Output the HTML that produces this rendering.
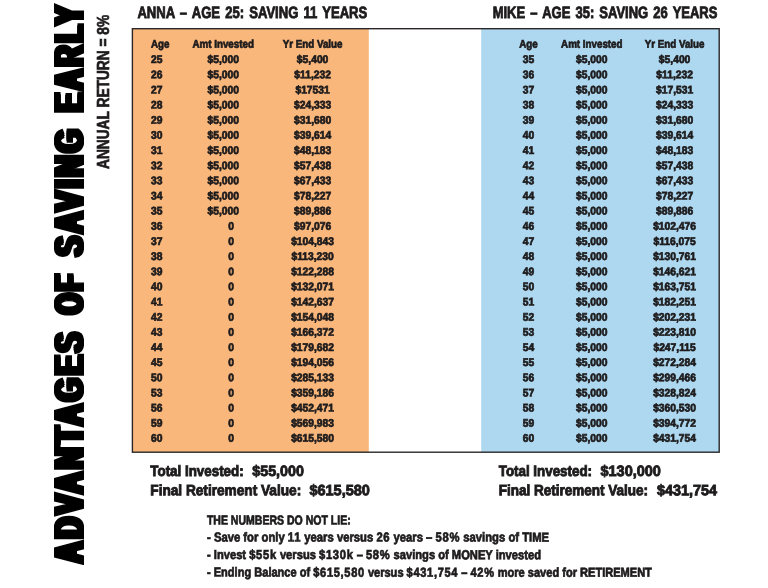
<!DOCTYPE html>
<html lang="en"><head><meta charset="utf-8"><title>Advantages of Saving Early</title>
<style>
html,body{margin:0;padding:0;background:#fff}
body{width:768px;height:588px;position:relative;overflow:hidden;font-family:"Liberation Sans",sans-serif;font-weight:bold;color:#1d1b1c}
.t{position:absolute;left:0;top:0;white-space:pre;line-height:1;transform-origin:0 0;margin:0}
.frame{position:absolute;left:0;top:0;width:768px;height:588px}
.c{position:absolute;left:0;top:0;white-space:pre;line-height:1;font-size:11.0px;width:100px;text-align:center;transform-origin:50% 0}
.l{position:absolute;left:0;top:0;white-space:pre;line-height:1;font-size:11.0px;transform-origin:0 0}
.h{-webkit-text-stroke:0.85px #1d1b1c}.tot{-webkit-text-stroke:0.9px #1d1b1c}.ft{-webkit-text-stroke:0.7px #1d1b1c}
.h{word-spacing:1.9px}.ft{word-spacing:0px}
.n{letter-spacing:0.8px}
.c,.l{-webkit-text-stroke:0.7px #1d1b1c}
.hd{font-size:11.3px}
.vt{position:absolute;white-space:pre;line-height:1;transform-origin:0 0;color:#000}
</style></head><body>
<div id="vwrap" style="position:absolute;left:0;top:0;width:128px;height:588px;filter:drop-shadow(0 2px 0 #000) drop-shadow(0 -2px 0 #000)">
<h1 class="vt" id="vtitle" style="margin:0;left:49.2px;top:565px;width:570px;height:40.7px;font-size:40.7px;letter-spacing:4.5px;-webkit-text-stroke:2.0px #000;transform:rotate(-90deg)">
<span style="position:absolute;left:2.4px;top:0;transform-origin:0 0;transform:scaleX(0.7215)">ADVANTAGES</span>
<span style="position:absolute;left:250.9px;top:0;transform-origin:0 0;transform:scaleX(0.6456)">OF</span>
<span style="position:absolute;left:308.8px;top:0;transform-origin:0 0;transform:scaleX(0.7216)">SAVING</span>
<span style="position:absolute;left:452.8px;top:0;transform-origin:0 0;transform:scaleX(0.6982)">EARLY</span>
</h1>
</div>
<div class="vt" id="vsub" style="left:96.2px;top:169.3px;font-size:16.7px;color:#1d1b1c;-webkit-text-stroke:0.7px #1d1b1c;transform:rotate(-90deg) scaleX(0.822)">ANNUAL RETURN = 8%</div>
<svg class="frame" width="768" height="588" viewBox="0 0 768 588">
<rect x="132.4" y="28.7" width="236.4" height="423.5" fill="#fab77c"/>
<rect x="481.2" y="28.7" width="238" height="423.5" fill="#aed8f0"/>
<rect x="132.4" y="28.7" width="586.8" height="423.5" fill="none" stroke="#2b2728" stroke-width="1.4"/>
</svg>
<section class="anna">
<div class="l hd" style="transform:translate(151px,38.83px) rotate(0.04deg) scaleX(0.865)">Age</div>
<div class="c hd" style="transform:translate(173.2px,38.83px) rotate(0.04deg) scaleX(0.865)">Amt Invested</div>
<div class="c hd" style="transform:translate(262.6px,38.83px) rotate(0.04deg) scaleX(0.865)">Yr End Value</div>
<div class="l" style="transform:translate(151px,54.09px) rotate(0.04deg) scaleX(0.935)">25</div>
<div class="c" style="transform:translate(173.2px,54.09px) rotate(0.04deg) scaleX(0.935)">$5,000</div>
<div class="c" style="transform:translate(262.6px,54.09px) rotate(0.04deg) scaleX(0.935)">$5,400</div>
<div class="l" style="transform:translate(151px,69.24px) rotate(0.04deg) scaleX(0.935)">26</div>
<div class="c" style="transform:translate(173.2px,69.24px) rotate(0.04deg) scaleX(0.935)">$5,000</div>
<div class="c" style="transform:translate(262.6px,69.24px) rotate(0.04deg) scaleX(0.935)">$11,232</div>
<div class="l" style="transform:translate(151px,84.39px) rotate(0.04deg) scaleX(0.935)">27</div>
<div class="c" style="transform:translate(173.2px,84.39px) rotate(0.04deg) scaleX(0.935)">$5,000</div>
<div class="c" style="transform:translate(262.6px,84.39px) rotate(0.04deg) scaleX(0.935)">$17531</div>
<div class="l" style="transform:translate(151px,99.54px) rotate(0.04deg) scaleX(0.935)">28</div>
<div class="c" style="transform:translate(173.2px,99.54px) rotate(0.04deg) scaleX(0.935)">$5,000</div>
<div class="c" style="transform:translate(262.6px,99.54px) rotate(0.04deg) scaleX(0.935)">$24,333</div>
<div class="l" style="transform:translate(151px,114.69px) rotate(0.04deg) scaleX(0.935)">29</div>
<div class="c" style="transform:translate(173.2px,114.69px) rotate(0.04deg) scaleX(0.935)">$5,000</div>
<div class="c" style="transform:translate(262.6px,114.69px) rotate(0.04deg) scaleX(0.935)">$31,680</div>
<div class="l" style="transform:translate(151px,129.84px) rotate(0.04deg) scaleX(0.935)">30</div>
<div class="c" style="transform:translate(173.2px,129.84px) rotate(0.04deg) scaleX(0.935)">$5,000</div>
<div class="c" style="transform:translate(262.6px,129.84px) rotate(0.04deg) scaleX(0.935)">$39,614</div>
<div class="l" style="transform:translate(151px,144.99px) rotate(0.04deg) scaleX(0.935)">31</div>
<div class="c" style="transform:translate(173.2px,144.99px) rotate(0.04deg) scaleX(0.935)">$5,000</div>
<div class="c" style="transform:translate(262.6px,144.99px) rotate(0.04deg) scaleX(0.935)">$48,183</div>
<div class="l" style="transform:translate(151px,160.14px) rotate(0.04deg) scaleX(0.935)">32</div>
<div class="c" style="transform:translate(173.2px,160.14px) rotate(0.04deg) scaleX(0.935)">$5,000</div>
<div class="c" style="transform:translate(262.6px,160.14px) rotate(0.04deg) scaleX(0.935)">$57,438</div>
<div class="l" style="transform:translate(151px,175.29px) rotate(0.04deg) scaleX(0.935)">33</div>
<div class="c" style="transform:translate(173.2px,175.29px) rotate(0.04deg) scaleX(0.935)">$5,000</div>
<div class="c" style="transform:translate(262.6px,175.29px) rotate(0.04deg) scaleX(0.935)">$67,433</div>
<div class="l" style="transform:translate(151px,190.44px) rotate(0.04deg) scaleX(0.935)">34</div>
<div class="c" style="transform:translate(173.2px,190.44px) rotate(0.04deg) scaleX(0.935)">$5,000</div>
<div class="c" style="transform:translate(262.6px,190.44px) rotate(0.04deg) scaleX(0.935)">$78,227</div>
<div class="l" style="transform:translate(151px,205.59px) rotate(0.04deg) scaleX(0.935)">35</div>
<div class="c" style="transform:translate(173.2px,205.59px) rotate(0.04deg) scaleX(0.935)">$5,000</div>
<div class="c" style="transform:translate(262.6px,205.59px) rotate(0.04deg) scaleX(0.935)">$89,886</div>
<div class="l" style="transform:translate(151px,220.74px) rotate(0.04deg) scaleX(0.935)">36</div>
<div class="c" style="transform:translate(181px,220.74px) rotate(0.04deg) scaleX(0.935)">0</div>
<div class="c" style="transform:translate(262.6px,220.74px) rotate(0.04deg) scaleX(0.935)">$97,076</div>
<div class="l" style="transform:translate(151px,235.89px) rotate(0.04deg) scaleX(0.935)">37</div>
<div class="c" style="transform:translate(181px,235.89px) rotate(0.04deg) scaleX(0.935)">0</div>
<div class="c" style="transform:translate(262.6px,235.89px) rotate(0.04deg) scaleX(0.935)">$104,843</div>
<div class="l" style="transform:translate(151px,251.04px) rotate(0.04deg) scaleX(0.935)">38</div>
<div class="c" style="transform:translate(181px,251.04px) rotate(0.04deg) scaleX(0.935)">0</div>
<div class="c" style="transform:translate(262.6px,251.04px) rotate(0.04deg) scaleX(0.935)">$113,230</div>
<div class="l" style="transform:translate(151px,266.19px) rotate(0.04deg) scaleX(0.935)">39</div>
<div class="c" style="transform:translate(181px,266.19px) rotate(0.04deg) scaleX(0.935)">0</div>
<div class="c" style="transform:translate(262.6px,266.19px) rotate(0.04deg) scaleX(0.935)">$122,288</div>
<div class="l" style="transform:translate(151px,281.34px) rotate(0.04deg) scaleX(0.935)">40</div>
<div class="c" style="transform:translate(181px,281.34px) rotate(0.04deg) scaleX(0.935)">0</div>
<div class="c" style="transform:translate(262.6px,281.34px) rotate(0.04deg) scaleX(0.935)">$132,071</div>
<div class="l" style="transform:translate(151px,296.49px) rotate(0.04deg) scaleX(0.935)">41</div>
<div class="c" style="transform:translate(181px,296.49px) rotate(0.04deg) scaleX(0.935)">0</div>
<div class="c" style="transform:translate(262.6px,296.49px) rotate(0.04deg) scaleX(0.935)">$142,637</div>
<div class="l" style="transform:translate(151px,311.64px) rotate(0.04deg) scaleX(0.935)">42</div>
<div class="c" style="transform:translate(181px,311.64px) rotate(0.04deg) scaleX(0.935)">0</div>
<div class="c" style="transform:translate(262.6px,311.64px) rotate(0.04deg) scaleX(0.935)">$154,048</div>
<div class="l" style="transform:translate(151px,326.79px) rotate(0.04deg) scaleX(0.935)">43</div>
<div class="c" style="transform:translate(181px,326.79px) rotate(0.04deg) scaleX(0.935)">0</div>
<div class="c" style="transform:translate(262.6px,326.79px) rotate(0.04deg) scaleX(0.935)">$166,372</div>
<div class="l" style="transform:translate(151px,341.94px) rotate(0.04deg) scaleX(0.935)">44</div>
<div class="c" style="transform:translate(181px,341.94px) rotate(0.04deg) scaleX(0.935)">0</div>
<div class="c" style="transform:translate(262.6px,341.94px) rotate(0.04deg) scaleX(0.935)">$179,682</div>
<div class="l" style="transform:translate(151px,357.09px) rotate(0.04deg) scaleX(0.935)">45</div>
<div class="c" style="transform:translate(181px,357.09px) rotate(0.04deg) scaleX(0.935)">0</div>
<div class="c" style="transform:translate(262.6px,357.09px) rotate(0.04deg) scaleX(0.935)">$194,056</div>
<div class="l" style="transform:translate(151px,372.24px) rotate(0.04deg) scaleX(0.935)">50</div>
<div class="c" style="transform:translate(181px,372.24px) rotate(0.04deg) scaleX(0.935)">0</div>
<div class="c" style="transform:translate(262.6px,372.24px) rotate(0.04deg) scaleX(0.935)">$285,133</div>
<div class="l" style="transform:translate(151px,387.39px) rotate(0.04deg) scaleX(0.935)">53</div>
<div class="c" style="transform:translate(181px,387.39px) rotate(0.04deg) scaleX(0.935)">0</div>
<div class="c" style="transform:translate(262.6px,387.39px) rotate(0.04deg) scaleX(0.935)">$359,186</div>
<div class="l" style="transform:translate(151px,402.54px) rotate(0.04deg) scaleX(0.935)">56</div>
<div class="c" style="transform:translate(181px,402.54px) rotate(0.04deg) scaleX(0.935)">0</div>
<div class="c" style="transform:translate(262.6px,402.54px) rotate(0.04deg) scaleX(0.935)">$452,471</div>
<div class="l" style="transform:translate(151px,417.69px) rotate(0.04deg) scaleX(0.935)">59</div>
<div class="c" style="transform:translate(181px,417.69px) rotate(0.04deg) scaleX(0.935)">0</div>
<div class="c" style="transform:translate(262.6px,417.69px) rotate(0.04deg) scaleX(0.935)">$569,983</div>
<div class="l" style="transform:translate(151px,432.84px) rotate(0.04deg) scaleX(0.935)">60</div>
<div class="c" style="transform:translate(181px,432.84px) rotate(0.04deg) scaleX(0.935)">0</div>
<div class="c" style="transform:translate(262.6px,432.84px) rotate(0.04deg) scaleX(0.935)">$615,580</div>
</section>
<section class="mike">
<div class="c hd" style="transform:translate(478.5px,38.83px) rotate(0.04deg) scaleX(0.865)">Age</div>
<div class="c hd" style="transform:translate(541.8px,38.83px) rotate(0.04deg) scaleX(0.865)">Amt Invested</div>
<div class="c hd" style="transform:translate(624.6px,38.83px) rotate(0.04deg) scaleX(0.865)">Yr End Value</div>
<div class="c" style="transform:translate(478.5px,54.09px) rotate(0.04deg) scaleX(0.935)">35</div>
<div class="c" style="transform:translate(541.8px,54.09px) rotate(0.04deg) scaleX(0.935)">$5,000</div>
<div class="c" style="transform:translate(624.6px,54.09px) rotate(0.04deg) scaleX(0.935)">$5,400</div>
<div class="c" style="transform:translate(478.5px,69.24px) rotate(0.04deg) scaleX(0.935)">36</div>
<div class="c" style="transform:translate(541.8px,69.24px) rotate(0.04deg) scaleX(0.935)">$5,000</div>
<div class="c" style="transform:translate(624.6px,69.24px) rotate(0.04deg) scaleX(0.935)">$11,232</div>
<div class="c" style="transform:translate(478.5px,84.39px) rotate(0.04deg) scaleX(0.935)">37</div>
<div class="c" style="transform:translate(541.8px,84.39px) rotate(0.04deg) scaleX(0.935)">$5,000</div>
<div class="c" style="transform:translate(624.6px,84.39px) rotate(0.04deg) scaleX(0.935)">$17,531</div>
<div class="c" style="transform:translate(478.5px,99.54px) rotate(0.04deg) scaleX(0.935)">38</div>
<div class="c" style="transform:translate(541.8px,99.54px) rotate(0.04deg) scaleX(0.935)">$5,000</div>
<div class="c" style="transform:translate(624.6px,99.54px) rotate(0.04deg) scaleX(0.935)">$24,333</div>
<div class="c" style="transform:translate(478.5px,114.69px) rotate(0.04deg) scaleX(0.935)">39</div>
<div class="c" style="transform:translate(541.8px,114.69px) rotate(0.04deg) scaleX(0.935)">$5,000</div>
<div class="c" style="transform:translate(624.6px,114.69px) rotate(0.04deg) scaleX(0.935)">$31,680</div>
<div class="c" style="transform:translate(478.5px,129.84px) rotate(0.04deg) scaleX(0.935)">40</div>
<div class="c" style="transform:translate(541.8px,129.84px) rotate(0.04deg) scaleX(0.935)">$5,000</div>
<div class="c" style="transform:translate(624.6px,129.84px) rotate(0.04deg) scaleX(0.935)">$39,614</div>
<div class="c" style="transform:translate(478.5px,144.99px) rotate(0.04deg) scaleX(0.935)">41</div>
<div class="c" style="transform:translate(541.8px,144.99px) rotate(0.04deg) scaleX(0.935)">$5,000</div>
<div class="c" style="transform:translate(624.6px,144.99px) rotate(0.04deg) scaleX(0.935)">$48,183</div>
<div class="c" style="transform:translate(478.5px,160.14px) rotate(0.04deg) scaleX(0.935)">42</div>
<div class="c" style="transform:translate(541.8px,160.14px) rotate(0.04deg) scaleX(0.935)">$5,000</div>
<div class="c" style="transform:translate(624.6px,160.14px) rotate(0.04deg) scaleX(0.935)">$57,438</div>
<div class="c" style="transform:translate(478.5px,175.29px) rotate(0.04deg) scaleX(0.935)">43</div>
<div class="c" style="transform:translate(541.8px,175.29px) rotate(0.04deg) scaleX(0.935)">$5,000</div>
<div class="c" style="transform:translate(624.6px,175.29px) rotate(0.04deg) scaleX(0.935)">$67,433</div>
<div class="c" style="transform:translate(478.5px,190.44px) rotate(0.04deg) scaleX(0.935)">44</div>
<div class="c" style="transform:translate(541.8px,190.44px) rotate(0.04deg) scaleX(0.935)">$5,000</div>
<div class="c" style="transform:translate(624.6px,190.44px) rotate(0.04deg) scaleX(0.935)">$78,227</div>
<div class="c" style="transform:translate(478.5px,205.59px) rotate(0.04deg) scaleX(0.935)">45</div>
<div class="c" style="transform:translate(541.8px,205.59px) rotate(0.04deg) scaleX(0.935)">$5,000</div>
<div class="c" style="transform:translate(624.6px,205.59px) rotate(0.04deg) scaleX(0.935)">$89,886</div>
<div class="c" style="transform:translate(478.5px,220.74px) rotate(0.04deg) scaleX(0.935)">46</div>
<div class="c" style="transform:translate(541.8px,220.74px) rotate(0.04deg) scaleX(0.935)">$5,000</div>
<div class="c" style="transform:translate(624.6px,220.74px) rotate(0.04deg) scaleX(0.935)">$102,476</div>
<div class="c" style="transform:translate(478.5px,235.89px) rotate(0.04deg) scaleX(0.935)">47</div>
<div class="c" style="transform:translate(541.8px,235.89px) rotate(0.04deg) scaleX(0.935)">$5,000</div>
<div class="c" style="transform:translate(624.6px,235.89px) rotate(0.04deg) scaleX(0.935)">$116,075</div>
<div class="c" style="transform:translate(478.5px,251.04px) rotate(0.04deg) scaleX(0.935)">48</div>
<div class="c" style="transform:translate(541.8px,251.04px) rotate(0.04deg) scaleX(0.935)">$5,000</div>
<div class="c" style="transform:translate(624.6px,251.04px) rotate(0.04deg) scaleX(0.935)">$130,761</div>
<div class="c" style="transform:translate(478.5px,266.19px) rotate(0.04deg) scaleX(0.935)">49</div>
<div class="c" style="transform:translate(541.8px,266.19px) rotate(0.04deg) scaleX(0.935)">$5,000</div>
<div class="c" style="transform:translate(624.6px,266.19px) rotate(0.04deg) scaleX(0.935)">$146,621</div>
<div class="c" style="transform:translate(478.5px,281.34px) rotate(0.04deg) scaleX(0.935)">50</div>
<div class="c" style="transform:translate(541.8px,281.34px) rotate(0.04deg) scaleX(0.935)">$5,000</div>
<div class="c" style="transform:translate(624.6px,281.34px) rotate(0.04deg) scaleX(0.935)">$163,751</div>
<div class="c" style="transform:translate(478.5px,296.49px) rotate(0.04deg) scaleX(0.935)">51</div>
<div class="c" style="transform:translate(541.8px,296.49px) rotate(0.04deg) scaleX(0.935)">$5,000</div>
<div class="c" style="transform:translate(624.6px,296.49px) rotate(0.04deg) scaleX(0.935)">$182,251</div>
<div class="c" style="transform:translate(478.5px,311.64px) rotate(0.04deg) scaleX(0.935)">52</div>
<div class="c" style="transform:translate(541.8px,311.64px) rotate(0.04deg) scaleX(0.935)">$5,000</div>
<div class="c" style="transform:translate(624.6px,311.64px) rotate(0.04deg) scaleX(0.935)">$202,231</div>
<div class="c" style="transform:translate(478.5px,326.79px) rotate(0.04deg) scaleX(0.935)">53</div>
<div class="c" style="transform:translate(541.8px,326.79px) rotate(0.04deg) scaleX(0.935)">$5,000</div>
<div class="c" style="transform:translate(624.6px,326.79px) rotate(0.04deg) scaleX(0.935)">$223,810</div>
<div class="c" style="transform:translate(478.5px,341.94px) rotate(0.04deg) scaleX(0.935)">54</div>
<div class="c" style="transform:translate(541.8px,341.94px) rotate(0.04deg) scaleX(0.935)">$5,000</div>
<div class="c" style="transform:translate(624.6px,341.94px) rotate(0.04deg) scaleX(0.935)">$247,115</div>
<div class="c" style="transform:translate(478.5px,357.09px) rotate(0.04deg) scaleX(0.935)">55</div>
<div class="c" style="transform:translate(541.8px,357.09px) rotate(0.04deg) scaleX(0.935)">$5,000</div>
<div class="c" style="transform:translate(624.6px,357.09px) rotate(0.04deg) scaleX(0.935)">$272,284</div>
<div class="c" style="transform:translate(478.5px,372.24px) rotate(0.04deg) scaleX(0.935)">56</div>
<div class="c" style="transform:translate(541.8px,372.24px) rotate(0.04deg) scaleX(0.935)">$5,000</div>
<div class="c" style="transform:translate(624.6px,372.24px) rotate(0.04deg) scaleX(0.935)">$299,466</div>
<div class="c" style="transform:translate(478.5px,387.39px) rotate(0.04deg) scaleX(0.935)">57</div>
<div class="c" style="transform:translate(541.8px,387.39px) rotate(0.04deg) scaleX(0.935)">$5,000</div>
<div class="c" style="transform:translate(624.6px,387.39px) rotate(0.04deg) scaleX(0.935)">$328,824</div>
<div class="c" style="transform:translate(478.5px,402.54px) rotate(0.04deg) scaleX(0.935)">58</div>
<div class="c" style="transform:translate(541.8px,402.54px) rotate(0.04deg) scaleX(0.935)">$5,000</div>
<div class="c" style="transform:translate(624.6px,402.54px) rotate(0.04deg) scaleX(0.935)">$360,530</div>
<div class="c" style="transform:translate(478.5px,417.69px) rotate(0.04deg) scaleX(0.935)">59</div>
<div class="c" style="transform:translate(541.8px,417.69px) rotate(0.04deg) scaleX(0.935)">$5,000</div>
<div class="c" style="transform:translate(624.6px,417.69px) rotate(0.04deg) scaleX(0.935)">$394,772</div>
<div class="c" style="transform:translate(478.5px,432.84px) rotate(0.04deg) scaleX(0.935)">60</div>
<div class="c" style="transform:translate(541.8px,432.84px) rotate(0.04deg) scaleX(0.935)">$5,000</div>
<div class="c" style="transform:translate(624.6px,432.84px) rotate(0.04deg) scaleX(0.935)">$431,754</div>
</section>
<div class="t h" id="L0" style="font-size:16.35px;transform:translate(137.4px,3.96px) rotate(0.04deg) scaleX(0.7994)">ANNA – AGE 25: SAVING 11 YEARS</div>
<div class="t h" id="L1" style="font-size:16.35px;transform:translate(492.7px,3.96px) rotate(0.04deg) scaleX(0.795)">MIKE – AGE 35: SAVING 26 YEARS</div>
<div class="t tot" id="L2" style="font-size:14.97px;transform:translate(150.3px,464.03px) rotate(0.04deg) scaleX(0.8936)">Total Invested:</div>
<div class="t tot" id="L3" style="font-size:14.97px;transform:translate(252.3px,464.03px) rotate(0.04deg) scaleX(0.9521)">$55,000</div>
<div class="t tot" id="L4" style="font-size:14.97px;transform:translate(150.3px,483.18px) rotate(0.04deg) scaleX(0.9117)">Final Retirement Value:</div>
<div class="t tot" id="L5" style="font-size:14.97px;transform:translate(309.4px,483.18px) rotate(0.04deg) scaleX(0.9692)">$615,580</div>
<div class="t tot" id="L6" style="font-size:14.97px;transform:translate(498.75px,464.03px) rotate(0.04deg) scaleX(0.8921)">Total Invested:</div>
<div class="t tot" id="L7" style="font-size:14.97px;transform:translate(600.5px,464.03px) rotate(0.04deg) scaleX(0.9676)">$130,000</div>
<div class="t tot" id="L8" style="font-size:14.97px;transform:translate(498.75px,483.18px) rotate(0.04deg) scaleX(0.9016)">Final Retirement Value:</div>
<div class="t tot" id="L9" style="font-size:14.97px;transform:translate(657.0px,483.18px) rotate(0.04deg) scaleX(0.9596)">$431,754</div>
<div class="t ft" id="L10" style="font-size:12.94px;transform:translate(206.9px,514.45px) rotate(0.04deg) scaleX(0.8132)">THE NUMBERS DO NOT LIE:</div>
<div class="t ft" id="L11" style="font-size:12.94px;transform:translate(207.0px,531.4px) rotate(0.04deg) scaleX(0.8715)">- Save for only <span class="n">11</span> years versus <span class="n">26</span> years – <span class="n">58%</span> savings of TIME</div>
<div class="t ft" id="L12" style="font-size:12.94px;transform:translate(207.0px,548.95px) rotate(0.04deg) scaleX(0.8632)">- Invest <span class="n">$55k</span> versus <span class="n">$130k</span> – <span class="n">58%</span> savings of MONEY invested</div>
<div class="t ft" id="L13" style="font-size:12.94px;transform:translate(207.0px,566.55px) rotate(0.04deg) scaleX(0.8543)">- Ending Balance of <span class="n">$615,580</span> versus <span class="n">$431,754</span> – <span class="n">42%</span> more saved for RETIREMENT</div>
</body></html>
